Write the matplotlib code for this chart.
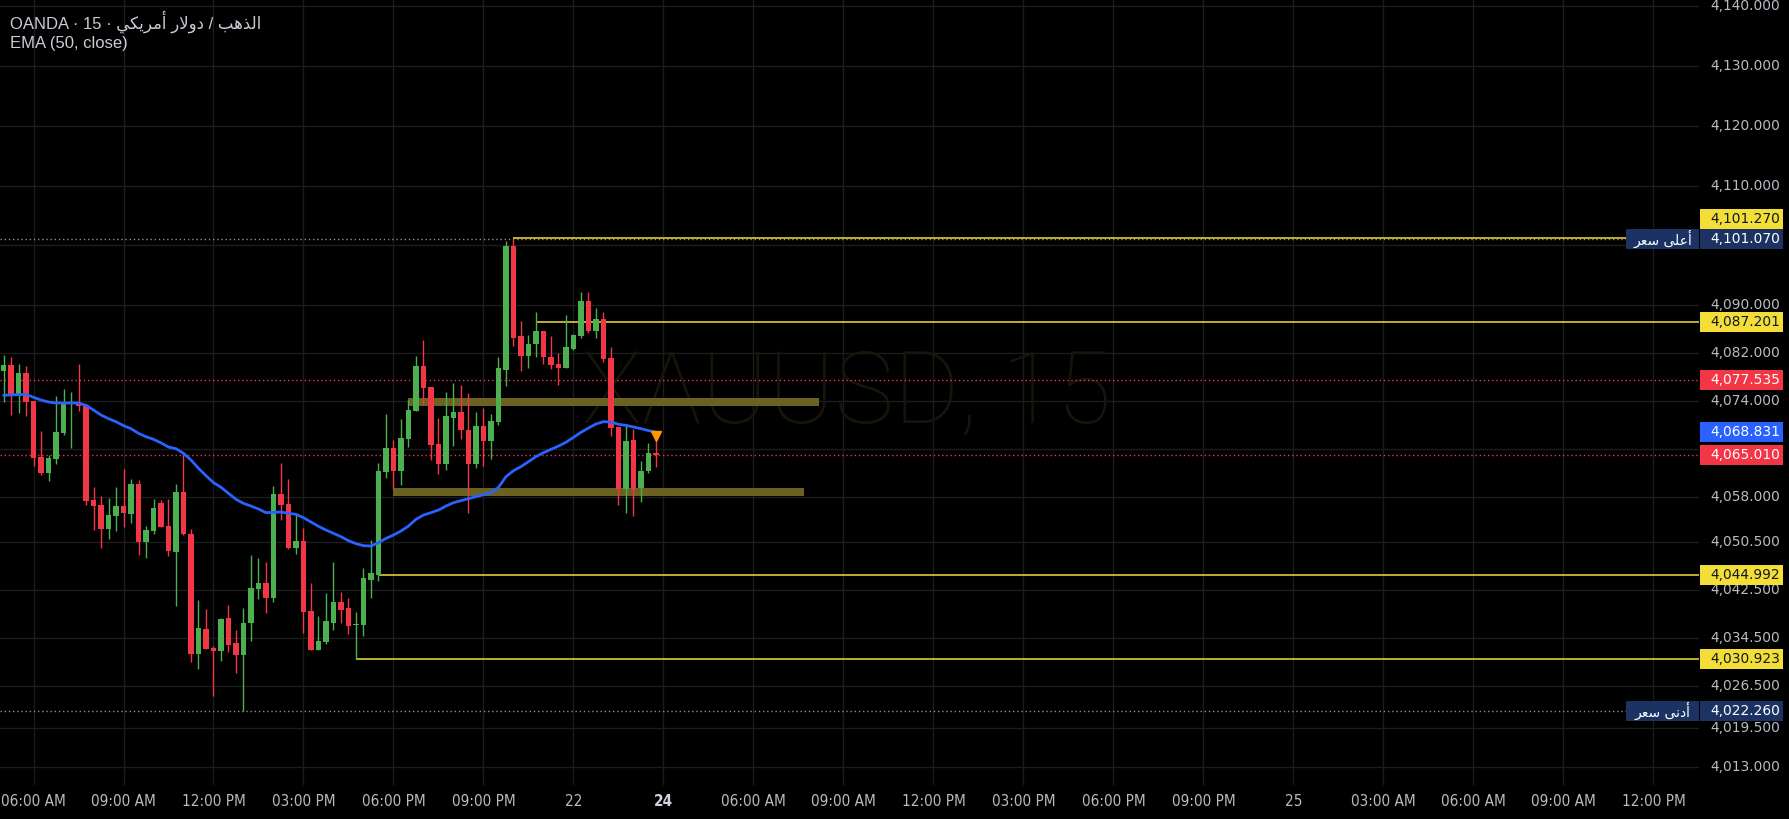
import matplotlib
matplotlib.use("Agg")
import matplotlib.pyplot as plt
from matplotlib.patches import Rectangle
from matplotlib.transforms import IdentityTransform
from matplotlib import font_manager

# ---------------- data: XAUUSD 15-minute candles ----------------
opens = [4079.10, 4080.04, 4074.92, 4078.71, 4074.03, 4064.69, 4062.07, 4064.35, 4068.75, 4073.70,
         4073.87, 4073.37, 4057.51, 4056.68, 4052.73, 4054.90, 4056.51, 4055.23, 4060.18, 4050.56,
         4052.39, 4057.00, 4053.17, 4048.89, 4058.85, 4051.84, 4031.87, 4035.93, 4032.81, 4032.37,
         4037.82, 4033.65, 4031.70, 4037.04, 4042.72, 4043.66, 4041.21, 4058.51, 4056.84, 4049.56,
         4050.67, 4038.99, 4032.53, 4033.87, 4037.04, 4040.49, 4039.49, 4036.71, 4036.65, 4044.16,
         4044.99, 4062.24, 4066.19, 4062.35, 4067.75, 4072.42, 4079.88, 4076.37, 4066.86, 4063.58,
         4071.20, 4072.20, 4069.25, 4063.58, 4069.86, 4067.42, 4070.59, 4079.26, 4099.90, 4084.88,
         4081.60, 4083.55, 4085.72, 4081.38, 4080.21, 4079.60, 4082.71, 4084.88, 4090.72, 4085.72,
         4087.72, 4081.21, 4069.70, 4059.41, 4067.53, 4059.57, 4062.35, 4065.30]
highs = [4081.71, 4081.32, 4080.21, 4079.87, 4074.10, 4069.03, 4065.08, 4074.87, 4076.04, 4075.54,
         4080.21, 4073.48, 4059.68, 4058.18, 4057.85, 4059.68, 4062.68, 4061.02, 4060.85, 4053.17,
         4057.68, 4057.51, 4057.68, 4060.18, 4065.30, 4052.67, 4040.82, 4039.32, 4033.15, 4037.87,
         4040.00, 4035.82, 4039.49, 4048.33, 4047.83, 4047.16, 4059.85, 4063.69, 4061.02, 4055.34,
         4052.84, 4043.66, 4038.15, 4041.99, 4047.16, 4042.16, 4041.16, 4038.82, 4046.22, 4050.84,
         4063.63, 4071.86, 4067.53, 4071.03, 4074.20, 4081.54, 4084.22, 4076.37, 4071.20, 4075.54,
         4077.04, 4076.71, 4075.37, 4072.20, 4072.87, 4071.86, 4081.38, 4100.74, 4101.07, 4087.39,
         4085.05, 4088.89, 4085.72, 4084.88, 4082.05, 4088.39, 4085.30, 4092.22, 4092.22, 4089.56,
         4088.89, 4083.05, 4069.70, 4070.20, 4069.36, 4064.02, 4067.03, 4067.36]
lows = [4073.92, 4071.70, 4072.09, 4071.53, 4063.24, 4061.74, 4060.74, 4063.58, 4068.36, 4066.25,
        4072.42, 4056.73, 4052.56, 4049.56, 4051.00, 4052.39, 4053.06, 4053.73, 4048.39, 4047.89,
        4051.89, 4053.01, 4048.17, 4039.88, 4051.67, 4030.53, 4029.36, 4032.65, 4024.86, 4030.70,
        4032.15, 4028.70, 4022.26, 4034.04, 4041.05, 4038.71, 4040.55, 4054.23, 4049.40, 4048.56,
        4035.37, 4032.45, 4032.45, 4033.54, 4035.87, 4037.04, 4035.20, 4030.92, 4034.87, 4041.21,
        4044.05, 4061.24, 4059.41, 4060.07, 4066.41, 4072.35, 4073.48, 4064.24, 4061.91, 4062.58,
        4066.58, 4067.75, 4055.40, 4062.91, 4063.24, 4064.41, 4070.09, 4076.59, 4083.27, 4079.10,
        4079.60, 4081.43, 4080.26, 4079.43, 4076.76, 4079.55, 4082.50, 4084.55, 4085.38, 4084.55,
        4080.60, 4068.25, 4056.73, 4055.40, 4054.90, 4057.23, 4062.07, 4063.07]
closes = [4080.04, 4074.92, 4078.71, 4073.92, 4064.58, 4062.07, 4064.52, 4068.86, 4073.87, 4073.81,
          4073.26, 4057.35, 4056.57, 4052.67, 4055.01, 4056.51, 4055.40, 4060.18, 4050.56, 4052.50,
          4056.18, 4053.06, 4049.06, 4058.85, 4051.84, 4031.87, 4036.15, 4032.70, 4032.37, 4037.65,
          4033.37, 4031.70, 4036.99, 4042.83, 4043.66, 4041.21, 4058.51, 4056.68, 4049.56, 4050.67,
          4038.88, 4032.53, 4033.98, 4037.32, 4040.49, 4039.21, 4036.54, 4036.87, 4044.55, 4045.38,
          4062.35, 4066.19, 4062.35, 4067.86, 4072.53, 4079.88, 4076.26, 4066.75, 4063.58, 4071.53,
          4072.20, 4069.25, 4063.58, 4069.86, 4067.42, 4070.70, 4079.54, 4099.90, 4084.60, 4081.60,
          4083.55, 4085.72, 4081.43, 4080.10, 4079.60, 4083.05, 4085.05, 4090.72, 4085.72, 4087.72,
          4081.04, 4069.53, 4059.41, 4067.36, 4059.41, 4062.35, 4065.30, 4065.01]
ema50 = [4074.98, 4075.05, 4075.10, 4075.15, 4074.65, 4074.20, 4073.87, 4073.70, 4073.70, 4073.70,
         4073.70, 4073.31, 4072.53, 4071.70, 4071.09, 4070.58, 4069.92, 4069.42, 4068.64, 4068.08,
         4067.64, 4067.05, 4066.35, 4066.08, 4065.30, 4064.19, 4062.80, 4061.57, 4060.41, 4059.63,
         4058.63, 4057.62, 4056.96, 4056.51, 4056.01, 4055.40, 4055.45, 4055.51, 4055.29, 4055.12,
         4054.56, 4053.84, 4053.12, 4052.50, 4051.95, 4051.39, 4050.72, 4050.22, 4049.89, 4049.83,
         4050.39, 4051.11, 4051.67, 4052.34, 4053.17, 4054.29, 4055.01, 4055.40, 4055.84, 4056.51,
         4057.07, 4057.40, 4057.74, 4058.07, 4058.40, 4058.74, 4059.63, 4061.41, 4062.41, 4063.08,
         4063.91, 4064.75, 4065.41, 4065.97, 4066.52, 4067.14, 4067.97, 4068.81, 4069.53, 4070.20,
         4070.59, 4070.53, 4070.14, 4069.97, 4069.70, 4069.42, 4069.10, 4068.83]

time_labels = ["06:00 AM", "09:00 AM", "12:00 PM", "03:00 PM", "06:00 PM", "09:00 PM", "22",
               "24", "06:00 AM", "09:00 AM", "12:00 PM", "03:00 PM", "06:00 PM", "09:00 PM",
               "25", "03:00 AM", "06:00 AM", "09:00 AM", "12:00 PM"]
price_ticks = [4140, 4130, 4120, 4110, 4100, 4090, 4082, 4074, 4066, 4058,
               4050.5, 4042.5, 4034.5, 4026.5, 4019.5, 4013]

# horizontal levels drawn on the chart (value, first bar)
level_values = [4101.270, 4087.201, 4044.992, 4030.923]
level_start_bars = [68, 71, 50, 47]
# support / resistance zones (low, high, first bar, last bar)
zone_lows = [4073.26, 4058.18]
zone_highs = [4074.54, 4059.51]
zone_starts = [54, 52]
zone_ends = [108.8, 106.8]

prev_close = 4077.535
last_price = 4065.010
ema_last = 4068.831
session_high = 4101.070
session_low = 4022.260

# ---------------- styling ----------------
BG = "#000000"
GRID = "#1c1c1c"
UP = "#4caf50"
DOWN = "#f23645"
EMA_COLOR = "#2962ff"
YELLOW = "#f2de37"
NAVY = "#1b3262"
AXIS_TXT = "#b8bbc3"
NUM_FONT = ["DejaVu Sans"]
NUM_SIZE = 9.9

W, H = 1789, 819
fig = plt.figure(figsize=(W / 100, H / 100), dpi=100, facecolor=BG)
PANE_R, PANE_B = 1699, 785  # pane right edge / bottom edge in pixels
ax = fig.add_axes([0, (H - PANE_B) / H, PANE_R / W, PANE_B / H])
ax.set_facecolor(BG)
ax.set_xlim(-0.467, 226.07)
ax.set_ylim(4009.95, 4140.96)
for s in ax.spines.values():
    s.set_visible(False)
ax.set_xticks([])
ax.set_yticks([])

label_bars = list(range(4, 4 + 12 * len(time_labels), 12))

# grid
for p in price_ticks:
    ax.axhline(p, color=GRID, lw=1, zorder=0)
for b in label_bars:
    ax.axvline(b, color=GRID, lw=1, zorder=0)

# watermark
try:
    font_manager.findfont(font_manager.FontProperties(family="Roboto", weight="light"),
                          fallback_to_default=False)
    wm_family = "Roboto"
except Exception:
    wm_family = "DejaVu Sans"
ax.text(0.4985, 0.497, "XAUUSD, 15", transform=ax.transAxes, ha="center", va="center",
        fontsize=72, color="#17150b", family=wm_family, fontweight="light", zorder=0.5)

# zones
for lo, hi, b0, b1 in zip(zone_lows, zone_highs, zone_starts, zone_ends):
    ax.add_patch(Rectangle((b0, lo), b1 - b0, hi - lo, facecolor="#6b6121",
                           edgecolor="none", zorder=1))

# reference lines
ax.axhline(session_high, color="#8a8d96", lw=1, ls=(0, (1, 2)), zorder=1.2)
ax.axhline(session_low, color="#8a8d96", lw=1, ls=(0, (1, 2)), zorder=1.2)
ax.axhline(prev_close, color=DOWN, lw=1, ls=(0, (1, 2)), zorder=1.2)
ax.axhline(last_price, color=DOWN, lw=1, ls=(0, (1, 2)), zorder=1.2)
for v, b0 in zip(level_values, level_start_bars):
    ax.hlines(v, b0, 226.07, color=YELLOW, lw=1.1, zorder=1.3)

# candles
idx = list(range(len(opens)))
cols = [UP if c >= o else DOWN for o, c in zip(opens, closes)]
ax.vlines(idx, lows, highs, colors=cols, lw=1.0, zorder=2)
bottoms = [min(o, c) for o, c in zip(opens, closes)]
heights = [max(abs(c - o), 0.18) for o, c in zip(opens, closes)]
ax.bar(idx, heights, bottom=bottoms, width=0.7, color=cols, edgecolor="none", zorder=2.1)

# EMA 50
ax.plot(idx, ema50, color=EMA_COLOR, lw=2.0, zorder=3, solid_capstyle="round")
ema_px = ax.transData.transform((idx[-1], ema50[-1]))
ax.plot([ema_px[0]], [ema_px[1] - 4], marker="v", ms=6.5, color="#ff9800",
        transform=IdentityTransform(), zorder=4)

# ---------------- price scale ----------------
def ypix(value):
    return ax.transData.transform((0, value))[1]


AX_X = 1710
TAG_L, TAG_R, TAG_H = 1700, 1783, 20
tag_centres = []


def price_tag(value, face, text_color, dy=0.0):
    yc = ypix(value) + dy
    tag_centres.append(yc)
    fig.add_artist(Rectangle((TAG_L, yc - TAG_H / 2), TAG_R - TAG_L, TAG_H,
                             facecolor=face, edgecolor="none",
                             transform=IdentityTransform(), zorder=5))
    fig.text(AX_X / W, yc / H, f"{value:,.3f}", ha="left", va="center",
             fontsize=NUM_SIZE, color=text_color, family=NUM_FONT, zorder=6)
    return yc


def name_tag(yc, text):
    left = 1626
    fig.add_artist(Rectangle((left, yc - TAG_H / 2), TAG_L - 1 - left, TAG_H,
                             facecolor=NAVY, edgecolor="none",
                             transform=IdentityTransform(), zorder=5))
    fig.text((left + TAG_L - 1) / 2 / W, yc / H, text, ha="center", va="center",
             fontsize=10, color="white", family=["DejaVu Sans"], zorder=6)


# Arabic words in presentation forms, ordered for left-to-right drawing
AR_PRICE = "\ufeae\ufecc\ufeb3"           # سعر
AR_HIGHEST = "\ufef0\ufee0\ufecb\ufe83"   # أعلى
AR_LOWEST = "\ufef0\ufee7\ufea9\ufe83"    # أدنى
AR_GOLD = "\ufe90\ufeeb\ufeac\ufedf\ufe8d"          # الذهب
AR_DOLLAR = "\ufead\ufefb\ufeed\ufea9"              # دولار
AR_AMERICAN = "\ufef2\ufedc\ufef3\ufeae\ufee3\ufe83"  # أمريكي

price_tag(level_values[0], YELLOW, "#131722", dy=19)
y_hi = price_tag(session_high, NAVY, "white")
name_tag(y_hi, AR_PRICE + " " + AR_HIGHEST)
price_tag(level_values[1], YELLOW, "#131722")
price_tag(prev_close, DOWN, "white")
price_tag(ema_last, EMA_COLOR, "white")
price_tag(last_price, DOWN, "white")
price_tag(level_values[2], YELLOW, "#131722")
price_tag(level_values[3], YELLOW, "#131722")
y_lo = price_tag(session_low, NAVY, "white")
name_tag(y_lo, AR_PRICE + " " + AR_LOWEST)

# scale labels, leaving out the ones hidden under a price tag
for p in price_ticks:
    yp = ypix(p)
    if any(abs(yp - yc) < 13 for yc in tag_centres):
        continue
    fig.text(AX_X / W, yp / H, f"{p:,.3f}", ha="left", va="center",
             fontsize=NUM_SIZE, color=AXIS_TXT, family=NUM_FONT, zorder=2)

# ---------------- time scale ----------------
cond = font_manager.FontProperties(family="DejaVu Sans", stretch="condensed")
if "Condensed" in font_manager.findfont(cond):
    time_font, time_size = cond, 11
else:
    time_font, time_size = font_manager.FontProperties(family="DejaVu Sans"), 10
for b, lab in zip(label_bars, time_labels):
    xp = ax.transData.transform((b, 0))[0]
    bold = lab == "24"
    fp = time_font.copy()
    fp.set_size(time_size)
    fp.set_weight("bold" if bold else "normal")
    fig.text(xp / W, 18 / H, lab, ha="center", va="center", fontproperties=fp,
             color="#d1d4dc" if bold else AXIS_TXT)

# ---------------- legend text ----------------
TITLE_FONT = ["Liberation Sans", "DejaVu Sans"]
fig.text(10.5 / W, 1 - 21.5 / H,
         "OANDA \u00b7 15 \u00b7 " + AR_AMERICAN + " " + AR_DOLLAR + " / " + AR_GOLD,
         ha="left", va="center", fontsize=12, color="#c9ccd4", family=TITLE_FONT)
fig.text(10.5 / W, 1 - 43.3 / H, "EMA (50, close)", ha="left", va="center",
         fontsize=12, color="#c9ccd4", family=TITLE_FONT)

fig.savefig("out.png", dpi=100, facecolor=BG)
